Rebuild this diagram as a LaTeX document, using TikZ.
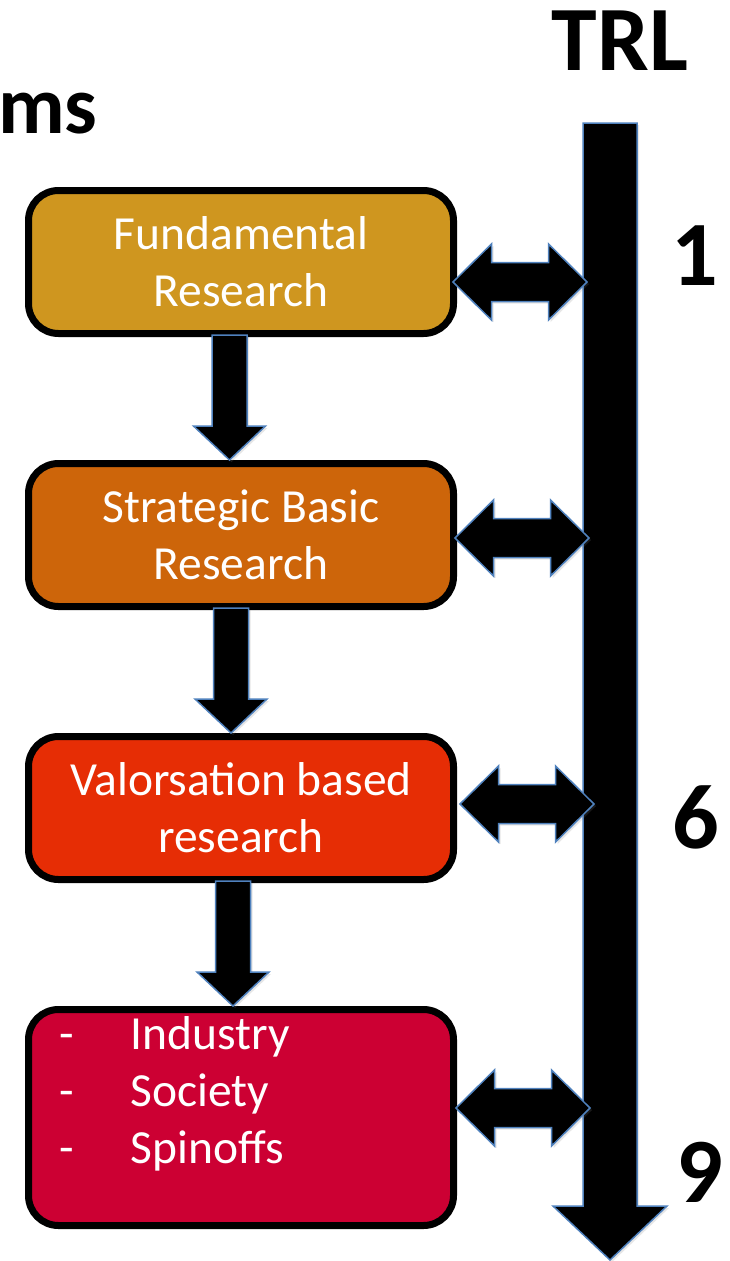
\documentclass[tikz,border=0pt]{standalone}
\usepackage{fontspec}
\setmainfont{Carlito}
\usetikzlibrary{positioning}
\usetikzlibrary{calc}
\usetikzlibrary{shadows}
\definecolor{fundcol}{RGB}{207,150,31}
\definecolor{stratcol}{RGB}{205,101,10}
\definecolor{valcol}{RGB}{230,45,5}
\definecolor{socicol}{RGB}{204,0,51}
\definecolor{edgeblue}{RGB}{79,129,189}

% block arrow with two heads, #1 left tip, #2 right tip
\newcommand{\twoway}[2]{%
  \filldraw[blockarrow] (#1) -- ($(#1)+(38.5,-38)$) -- ($(#1)+(38.5,-19.5)$) -- ($(#2)+(-38.5,-19.5)$)
    -- ($(#2)+(-38.5,-38)$) -- (#2) -- ($(#2)+(-38.5,38)$) -- ($(#2)+(-38.5,19.5)$)
    -- ($(#1)+(38.5,19.5)$) -- ($(#1)+(38.5,38)$) -- cycle;}
% block arrow downwards, #1 tail centre, #2 tip
\newcommand{\oneway}[2]{%
  \filldraw[blockarrow] ($(#1)+(-17.5,0)$) -- ($(#2)+(-17.5,-34)$) -- ($(#2)+(-36,-34)$) -- (#2)
    -- ($(#2)+(36,-34)$) -- ($(#2)+(17.5,-34)$) -- ($(#1)+(17.5,0)$) -- cycle;}

\begin{document}
\begin{tikzpicture}[x=1pt, y=-1pt,
    box/.style={draw=black, line width=7pt, rounded corners=30pt, minimum width=425pt, minimum height=143pt,
      inner sep=0pt, text=white, align=center, font=\fontsize{47.5}{57}\selectfont},
    blockarrow/.style={fill=black, draw=edgeblue, line width=1.5pt,
      drop shadow={opacity=0.2, shadow xshift=2pt, shadow yshift=-2pt}},
    big/.style={font=\fontsize{92}{110}\selectfont\bfseries, inner sep=0pt}]
    \useasboundingbox (0,0) rectangle (729,1261);

    \node[big, anchor=base] (trl) at (620,70) {TRL};
    \node[big, font=\fontsize{82}{100}\selectfont\bfseries, anchor=base west] (ms) at (-2,133) {ms};

    \node[box, fill=fundcol] (fund) at (241,262) {Fundamental\\Research};
    \node[box, fill=stratcol, below=123pt of fund] (strat) {Strategic Basic\\Research};
    \node[box, fill=valcol, below=123pt of strat] (valo) {Valorsation based\\research};
    \node[box, fill=socicol, minimum height=216pt, below=123pt of valo] (soci)
      {\begin{tabular}{@{\hspace{31pt}}p{71pt}@{}p{323pt}@{}}-&Industry\\-&Society\\-&Spinoffs\\[45pt]\end{tabular}};

    \coordinate (bartop) at (610,123);
    \coordinate (bartip) at (610,1260);
    \filldraw[blockarrow] ($(bartop)+(-27,0)$) -- ($(bartop)+(27,0)$) -- ($(bartip)+(27,-54)$) -- ($(bartip)+(57,-54)$)
      -- (bartip) -- ($(bartip)+(-57,-54)$) -- ($(bartip)+(-27,-54)$) -- cycle;

    \node[big, anchor=base] (one) at (695,285) {1};
    \node[big, anchor=base] (six) at (696,848) {6};
    \node[big, anchor=base] (nine) at (700,1202) {9};

    \coordinate (d1a) at ($(fund.south)+(-11.5,-2)$);
    \coordinate (d1b) at ($(strat.north)+(-11.5,0)$);
    \coordinate (d2a) at ($(strat.south)+(-10,-2)$);
    \coordinate (d2b) at ($(valo.north)+(-10,0)$);
    \coordinate (d3a) at ($(valo.south)+(-8,-2)$);
    \coordinate (d3b) at ($(soci.north)+(-8,0)$);
    \oneway{d1a}{d1b}
    \oneway{d2a}{d2b}
    \oneway{d3a}{d3b}

    \coordinate (w1) at ($(fund.east)+(-4,20)$);
    \coordinate (e1) at ($(w1 -| bartop)+(-23,0)$);
    \coordinate (w2) at ($(strat.east)+(-2,3)$);
    \coordinate (e2) at ($(w2 -| bartop)+(-21,0)$);
    \coordinate (w3) at ($(valo.east)+(3,-4)$);
    \coordinate (e3) at ($(w3 -| bartop)+(-16,0)$);
    \coordinate (w4) at ($(soci.east)+(-1,-9.5)$);
    \coordinate (e4) at ($(w4 -| bartop)+(-20,0)$);
    \twoway{w1}{e1}
    \twoway{w2}{e2}
    \twoway{w3}{e3}
    \twoway{w4}{e4}
\end{tikzpicture}
\end{document}
